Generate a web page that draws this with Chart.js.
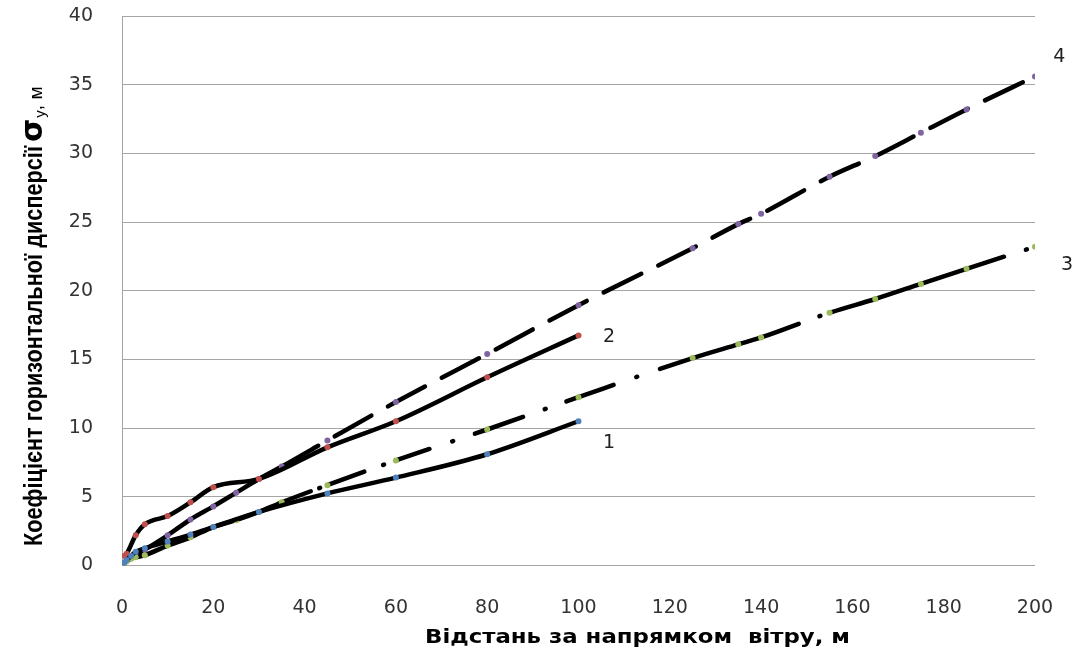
<!DOCTYPE html>
<html>
<head>
<meta charset="utf-8">
<script src="https://cdn.jsdelivr.net/npm/chart.js@4.4.1/dist/chart.umd.min.js"></script>
<style>
  html, body { margin: 0; padding: 0; background: #fff; }
  #wrap { width: 1077px; height: 650px; }
</style>
</head>
<body>
<div id="wrap"><canvas id="chart" width="1077" height="650"></canvas></div>
<script>
// curve 1
const x1 = [0.5, 1, 2, 3, 5, 10, 15, 20, 30, 45, 60, 80, 100];
const y1 = [0.2, 0.4, 0.7, 1.0, 1.25, 1.75, 2.25, 2.8, 3.9, 5.25, 6.4, 8.1, 10.5];
// curve 2
const x2 = [0.5, 1, 3, 5, 10, 15, 20, 30, 45, 60, 80, 100];
const y2 = [0.7, 0.85, 2.2, 3.0, 3.6, 4.6, 5.7, 6.3, 8.6, 10.5, 13.7, 16.75];
// curve 3
const x3 = [0.5, 1, 2, 3, 5, 10, 15, 20, 25, 30, 35, 45, 60, 80, 100, 125, 135, 140, 155, 165, 175, 185, 200];
const y3 = [0.15, 0.3, 0.5, 0.6, 0.75, 1.45, 2.05, 2.8, 3.3, 3.9, 4.6, 5.85, 7.65, 9.9, 12.25, 15.1, 16.1, 16.6, 18.4, 19.4, 20.5, 21.6, 23.2];
// curve 4
const x4 = [0.5, 1, 3, 5, 10, 15, 20, 25, 30, 35, 45, 60, 80, 100, 125, 135, 140, 155, 165, 175, 185, 200];
const y4 = [0.2, 0.35, 0.75, 1.15, 2.2, 3.35, 4.3, 5.3, 6.3, 7.2, 9.1, 11.9, 15.4, 18.95, 23.1, 24.85, 25.6, 28.3, 29.8, 31.5, 33.2, 35.6];

const curveNames = ['1', '2', '3', '4'];
const xTicks = [0, 20, 40, 60, 80, 100, 120, 140, 160, 180, 200];
const yTicks = [0, 5, 10, 15, 20, 25, 30, 35, 40];

const xTitle = 'Відстань за напрямком  вітру, м';
const yTitle = 'Коефіцієнт горизонтальної дисперсії';

function pts(xs, ys) {
  return xs.map((x, i) => ({ x: x, y: ys[i] }));
}

// where the curve numbers sit (data units)
const nameSpots = [[106.7, 8.9], [106.7, 16.6], [207, 21.9], [205.3, 37]];

// dash-dot of curve 3 as it looks in the picture (solid near the origin)
const dashDot3 = [31, 9, 1, 9, 38, 20, 1, 14, 34, 24, 1, 23, 51, 23, 1, 22,
                  50, 24, 1, 24, 146, 22, 1, 12, 181, 23, 1, 100];
const dash3 = ctx => (ctx.p0.parsed.x >= 35 ? dashDot3 : []);
const dash4 = ctx => (ctx.p0.parsed.x >= 35 ? [42, 19] : []);

const markerColors = ['#4f81bd', '#c0504d', '#9bbb59', '#8064a2'];

function line(data, i, dashFn) {
  const ds = {
    data: data,
    showLine: true,
    borderColor: '#000',
    borderWidth: 4.5,
    borderCapStyle: 'round',
    cubicInterpolationMode: 'monotone',
    pointRadius: 3,
    pointBorderWidth: 0,
    pointBackgroundColor: markerColors[i],
    pointHoverRadius: 3
  };
  if (dashFn) ds.segment = { borderDash: dashFn };
  return ds;
}

// draw text squeezed/stretched along its direction to a given length
function fitText(c, txt, x, y, len) {
  const w = c.measureText(txt).width;
  c.save();
  c.translate(x, y);
  c.scale(len / w, 1);
  c.fillText(txt, 0, 0);
  c.restore();
  return len;
}

// axis titles and curve numbers
const extras = {
  id: 'extras',
  afterDraw(chart) {
    const c = chart.ctx;
    const xs = chart.scales.x, ys = chart.scales.y;
    c.save();
    c.fillStyle = '#000';
    c.textAlign = 'left';
    c.textBaseline = 'alphabetic';

    // x title
    c.font = 'bold 20px "DejaVu Sans", sans-serif';
    fitText(c, xTitle, 425, 643, 425);

    // y title with sigma_y
    c.save();
    c.translate(42, 546);
    c.rotate(-Math.PI / 2);
    c.font = 'bold 26px "Liberation Sans", Arial, sans-serif';
    let pos = fitText(c, yTitle, 0, 0, 400) + 4;
    c.font = 'bold 30px "DejaVu Sans", sans-serif';
    c.fillText('σ', pos, 0);
    pos += c.measureText('σ').width + 1;
    c.font = '15px "Liberation Sans", Arial, sans-serif';
    c.fillText('y', pos, 3);
    pos += c.measureText('y').width;
    c.font = '19px "Liberation Sans", Arial, sans-serif';
    c.fillText(', м', pos, 0);
    c.restore();

    // curve numbers
    c.font = '19px "DejaVu Sans", sans-serif';
    c.fillStyle = '#222';
    c.textAlign = 'center';
    c.textBaseline = 'middle';
    nameSpots.forEach((p, i) => {
      c.fillText(curveNames[i], xs.getPixelForValue(p[0]), ys.getPixelForValue(p[1]));
    });
    c.restore();
  }
};

new Chart(document.getElementById('chart'), {
  type: 'scatter',
  data: {
    datasets: [
      line(pts(x1, y1), 0),
      line(pts(x2, y2), 1),
      line(pts(x3, y3), 2, dash3),
      line(pts(x4, y4), 3, dash4)
    ]
  },
  options: {
    responsive: false,
    animation: false,
    devicePixelRatio: 1,
    layout: { padding: { top: 16, right: 42, left: 0, bottom: 0 } },
    plugins: {
      legend: { display: false },
      tooltip: { enabled: false }
    },
    scales: {
      x: {
        type: 'linear',
        min: 0,
        max: 200,
        afterFit: s => { s.height = 84.5; },
        afterBuildTicks: s => { s.ticks = xTicks.map(v => ({ value: v })); },
        grid: { display: false },
        border: { display: false },
        ticks: {
          padding: 23,
          color: '#333',
          font: { family: '"DejaVu Sans", sans-serif', size: 19 }
        }
      },
      y: {
        type: 'linear',
        min: 0,
        max: 40,
        afterFit: s => { s.width = 122; s.paddingTop = 0; s.paddingBottom = 0; },
        afterBuildTicks: s => { s.ticks = yTicks.map(v => ({ value: v })); },
        grid: { color: '#a5a5a5', lineWidth: 1, drawTicks: false },
        border: { display: true, color: '#a5a5a5', width: 1 },
        ticks: {
          padding: 29,
          color: '#333',
          font: { family: '"DejaVu Sans", sans-serif', size: 19 }
        }
      }
    }
  },
  plugins: [extras]
});
</script>
</body>
</html>
